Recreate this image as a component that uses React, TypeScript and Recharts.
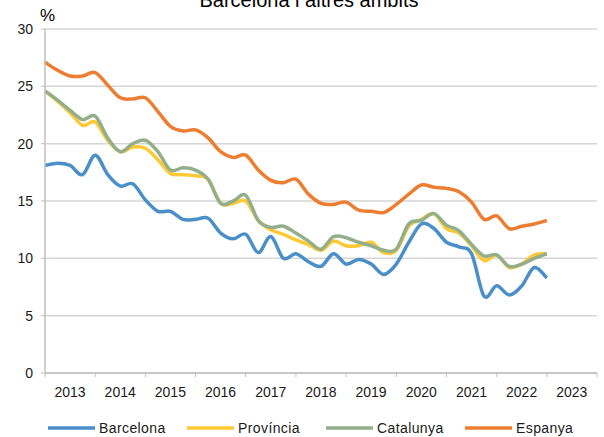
import React from "react"
import {
  LineChart, Line, XAxis, YAxis, CartesianGrid, Legend,
} from "recharts"

// quarterly unemployment rate, 2013 T1 .. 2023 T1
const barcelona = [
  18.1, 18.3, 18.1, 17.3, 19.0, 17.3, 16.3, 16.5, 15.1, 14.1, 14.1,
  13.4, 13.4, 13.5, 12.2, 11.7, 12.1, 10.5, 11.9, 10.0, 10.4, 9.7,
  9.3, 10.4, 9.5, 9.9, 9.5, 8.6, 9.5, 11.4, 13.0, 12.6,
  11.4, 11.0, 10.4, 6.7, 7.6, 6.8, 7.6, 9.2, 8.3,
]
const provincia = [
  24.6, 23.7, 22.7, 21.6, 21.9, 20.3, 19.3, 19.7, 19.6, 18.6, 17.4,
  17.3, 17.2, 16.9, 14.8, 14.8, 15.0, 13.3, 12.5, 12.1, 11.6, 11.2,
  10.7, 11.5, 11.1, 11.1, 11.4, 10.5, 10.7, 12.8, 13.4, 13.9,
  12.6, 12.2, 11.1, 9.8, 10.3, 9.2, 9.5, 10.3, 10.4,
]
const catalunya = [
  24.6, 23.8, 22.9, 22.1, 22.4, 20.5, 19.3, 20.0, 20.3, 19.3, 17.7,
  17.9, 17.7, 16.9, 14.8, 15.0, 15.5, 13.3, 12.7, 12.8, 12.2, 11.5,
  10.8, 11.9, 11.8, 11.4, 11.1, 10.7, 10.8, 13.0, 13.3, 13.9,
  12.9, 12.4, 11.2, 10.2, 10.3, 9.3, 9.5, 10.0, 10.4,
]
const espanya = [
  27.1, 26.4, 25.9, 25.9, 26.2, 25.1, 24.0, 23.9, 24.0, 22.8, 21.5,
  21.1, 21.2, 20.5, 19.3, 18.8, 19.0, 17.7, 16.8, 16.6, 16.9, 15.6,
  14.8, 14.7, 14.9, 14.2, 14.1, 14.0, 14.7, 15.6, 16.4, 16.2,
  16.1, 15.8, 14.9, 13.4, 13.7, 12.6, 12.8, 13.0, 13.3,
]

const years = ["2013", "2014", "2015", "2016", "2017", "2018", "2019", "2020", "2021", "2022", "2023"]
const yTicks = [0, 5, 10, 15, 20, 25, 30]
const xTicks = [0, 4, 8, 12, 16, 20, 24, 28, 32, 36, 40, 44]

const FONT = "'Liberation Sans', Arial, sans-serif"

const series = [
  { key: "Barcelona", color: "#4a8fc7" },
  { key: "Província", color: "#ffc933" },
  { key: "Catalunya", color: "#93ae8b" },
  { key: "Espanya", color: "#ed7d31" },
]

const data = barcelona.map((v, i) => ({
  q: i,
  Barcelona: v,
  "Província": provincia[i],
  Catalunya: catalunya[i],
  Espanya: espanya[i],
}))

// Excel-like smoothed line (Catmull-Rom through the points)
const smoothCurve = (context: any) => {
  let pts: number[][] = []
  return {
    areaStart() {},
    areaEnd() {},
    lineStart() { pts = [] },
    point(x: number, y: number) { pts.push([+x, +y]) },
    lineEnd() {
      if (!pts.length) return
      context.moveTo(pts[0][0], pts[0][1])
      for (let i = 0; i < pts.length - 1; i++) {
        const p0 = pts[i - 1] || pts[i]
        const p1 = pts[i]
        const p2 = pts[i + 1]
        const p3 = pts[i + 2] || p2
        context.bezierCurveTo(
          p1[0] + (p2[0] - p0[0]) / 6, p1[1] + (p2[1] - p0[1]) / 6,
          p2[0] - (p3[0] - p1[0]) / 6, p2[1] - (p3[1] - p1[1]) / 6,
          p2[0], p2[1],
        )
      }
    },
  }
}

const YearTick = (props: any) => {
  const { x, y, payload } = props
  const label = years[payload.value / 4]
  if (!label || payload.value >= 44) return null
  return (
    <text x={x + 25} y={y} dy={18} textAnchor="middle" fontSize={14} fill="#1a1a1a" fontFamily={FONT}>
      {label}
    </text>
  )
}

const LegendBox = () => (
  <div style={{ display: "flex", paddingLeft: 48, paddingTop: 17, fontFamily: FONT, fontSize: 14, color: "#1a1a1a" }}>
    {series.map((s) => (
      <div key={s.key} style={{ width: 145, display: "flex", alignItems: "center" }}>
        <svg width={51} height={10}>
          <line x1={0} x2={47} y1={5} y2={5} stroke={s.color} strokeWidth={3.5} />
        </svg>
        <span style={{ letterSpacing: 0.4 }}>{s.key}</span>
      </div>
    ))}
  </div>
)

export default function App() {
  return (
    <div style={{ position: "relative", width: 604, height: 437, background: "#fff" }}>
      <style>{`body{margin:0}`}</style>
      <LineChart width={604} height={437} data={data} margin={{ top: 29, right: 7, left: 0, bottom: 0 }}>
        <CartesianGrid vertical={false} stroke="#d6d6d6" strokeWidth={1.5} />
        <XAxis
          dataKey="q"
          type="number"
          domain={[0, 44]}
          ticks={xTicks}
          interval={0}
          height={30}
          tick={<YearTick />}
          tickSize={4}
          tickLine={{ stroke: "#bfbfbf" }}
          axisLine={{ stroke: "#bfbfbf", strokeWidth: 1.5 }}
        />
        <YAxis
          domain={[0, 30]}
          ticks={yTicks}
          width={45}
          tickSize={4}
          tickMargin={8}
          tick={{ fontSize: 14, fill: "#1a1a1a", fontFamily: FONT }}
          tickLine={{ stroke: "#bfbfbf" }}
          axisLine={{ stroke: "#bfbfbf", strokeWidth: 1.5 }}
        />
        <Legend verticalAlign="bottom" height={34} content={<LegendBox />} wrapperStyle={{ left: 0, width: 604 }} />
        {series.map((s) => (
          <Line
            key={s.key}
            dataKey={s.key}
            type={smoothCurve as any}
            stroke={s.color}
            strokeWidth={3.5}
            dot={false}
            isAnimationActive={false}
          />
        ))}
      </LineChart>
      <svg width={604} height={437} style={{ position: "absolute", left: 0, top: 0, pointerEvents: "none" }}>
        <text x={309} y={7} textAnchor="middle" fontSize={20} fontFamily={FONT} fill="#000">
          Barcelona i altres àmbits
        </text>
        <text x={40} y={21} fontSize={17} fontFamily={FONT} fill="#000">%</text>
      </svg>
    </div>
  )
}
